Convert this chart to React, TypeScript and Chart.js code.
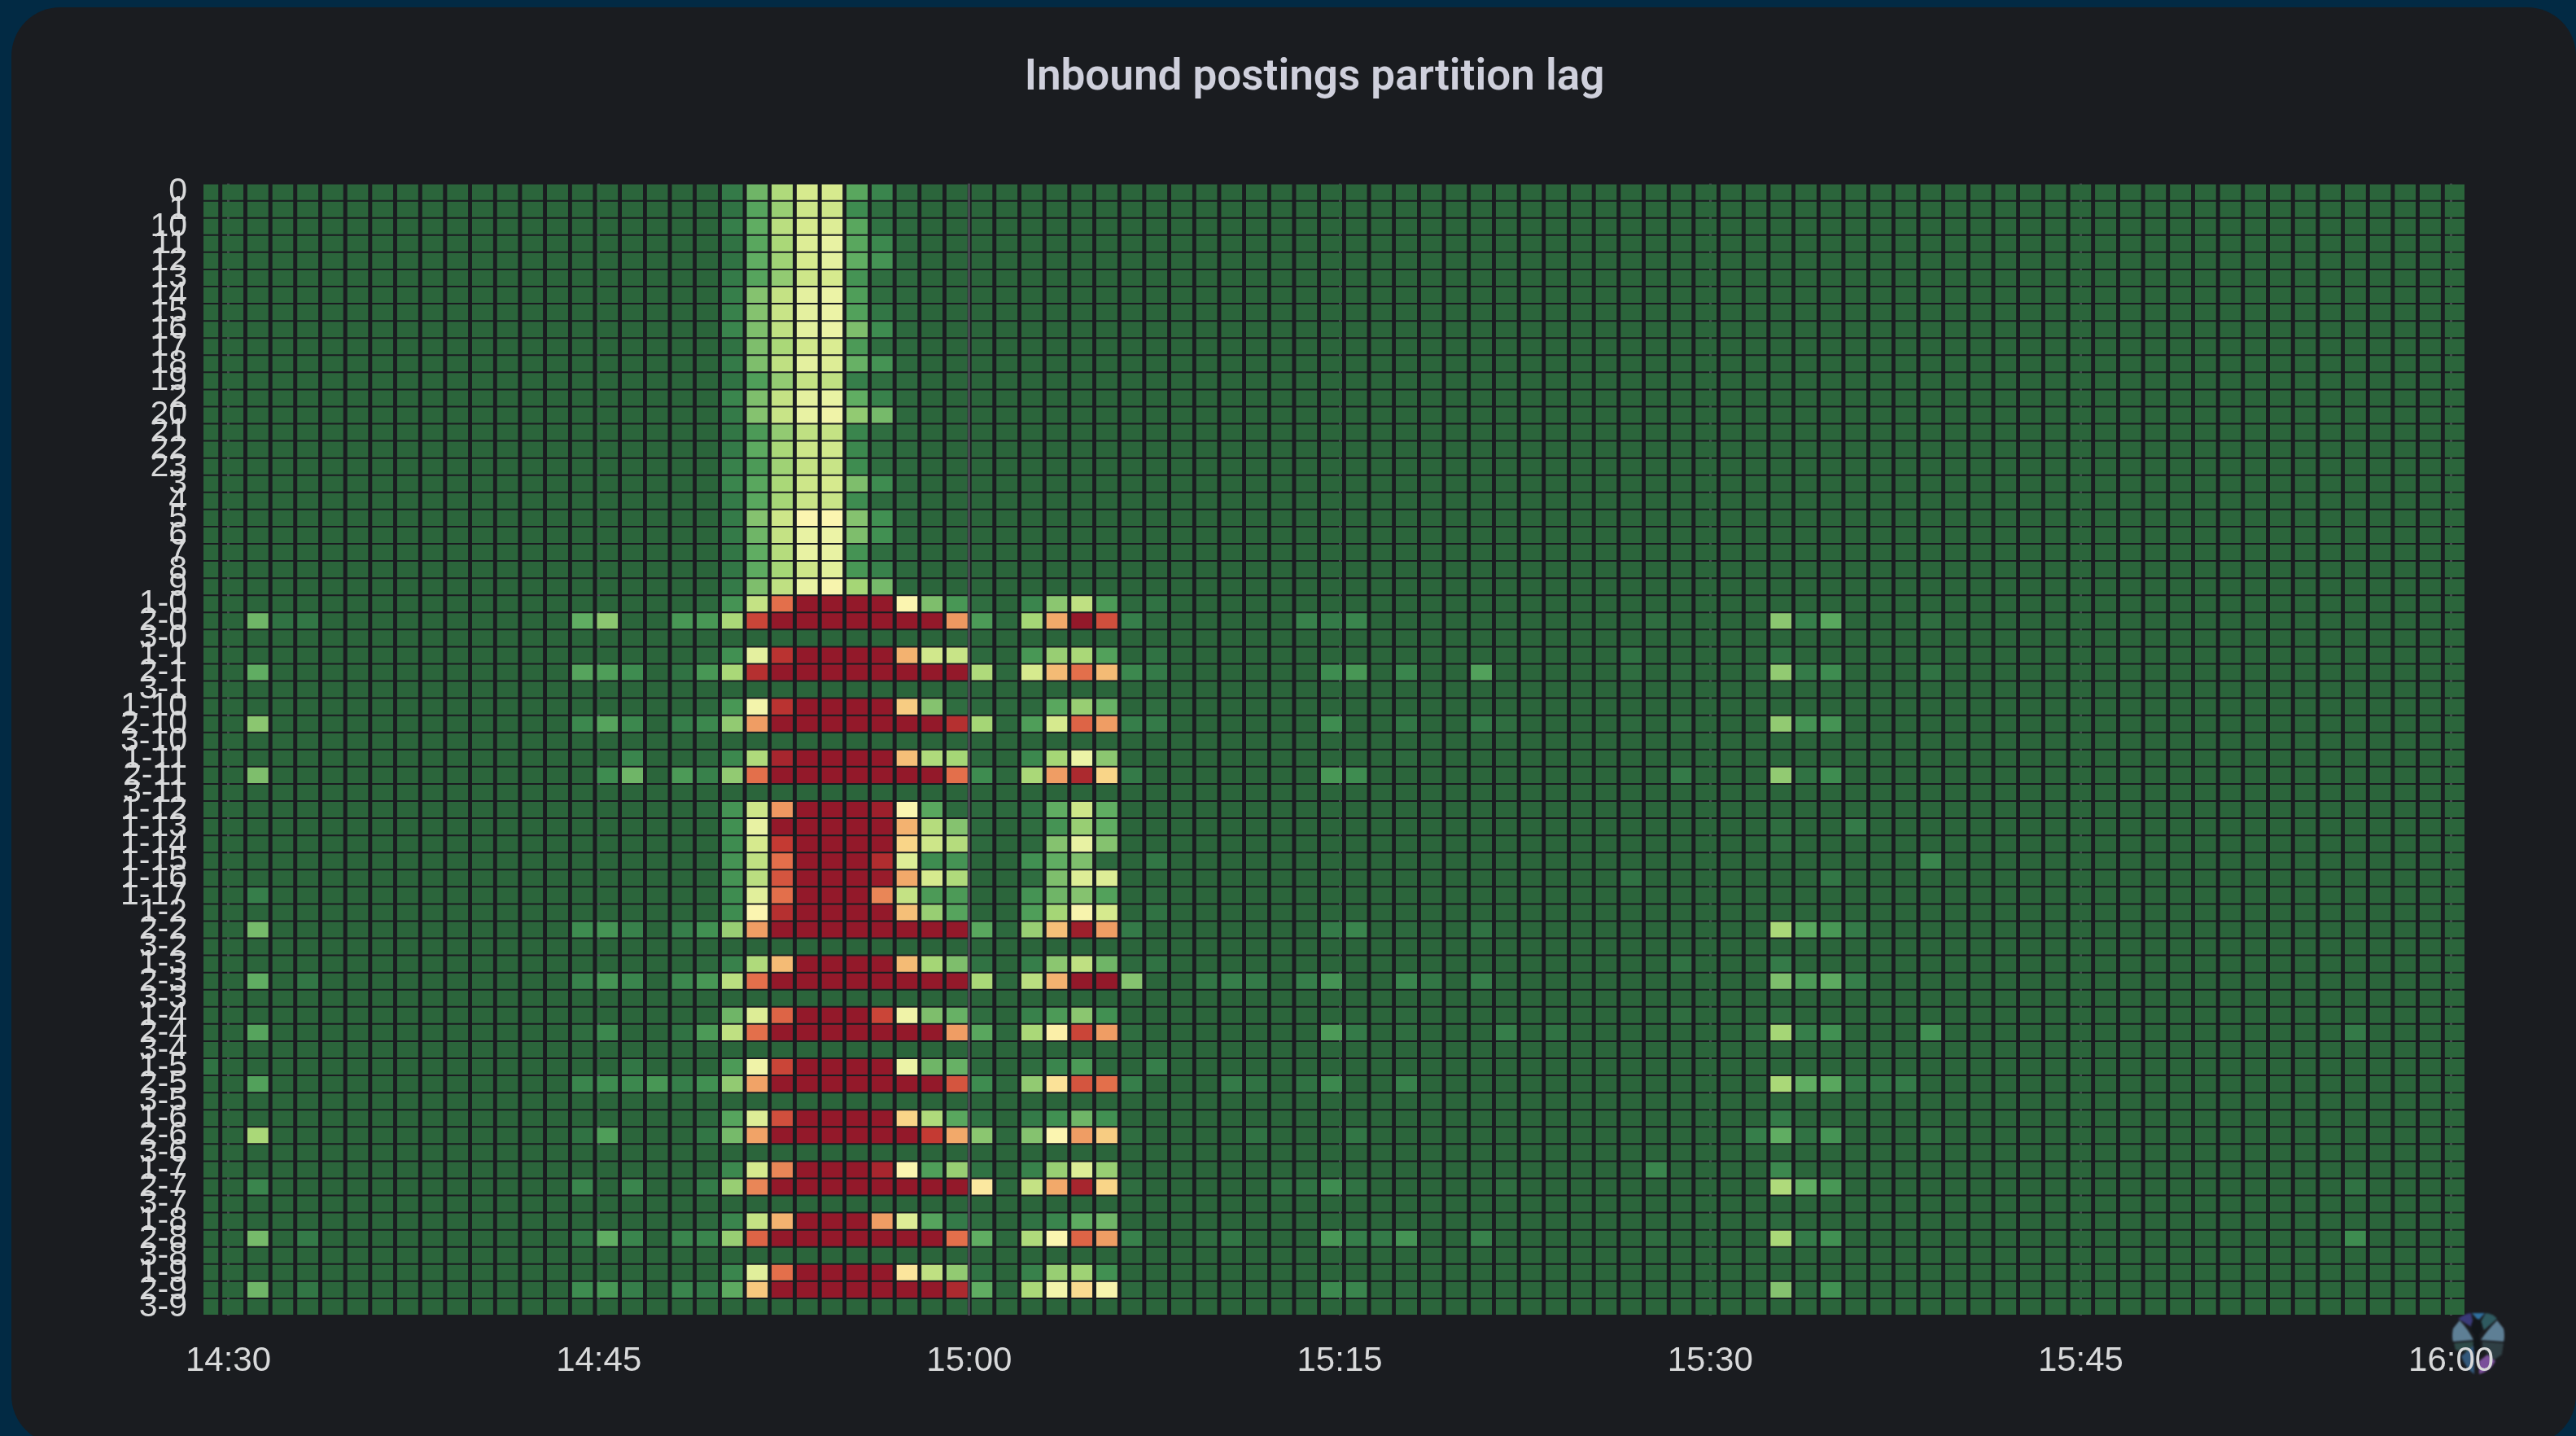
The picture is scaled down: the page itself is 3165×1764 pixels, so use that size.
import React, { useEffect, useRef } from "react";
import { Chart, registerables } from "chart.js";

Chart.register(...registerables);

// ---------- axis content ----------
const plainPartitions = ["0","1","10","11","12","13","14","15","16","17","18","19","2","20","21","22","23","3","4","5","6","7","8","9"];
const topicPartitions = [
  "1-0","2-0","3-0","1-1","2-1","3-1","1-10","2-10","3-10","1-11","2-11","3-11",
  "1-12","1-13","1-14","1-15","1-16","1-17",
  "1-2","2-2","3-2","1-3","2-3","3-3","1-4","2-4","3-4","1-5","2-5","3-5",
  "1-6","2-6","3-6","1-7","2-7","3-7","1-8","2-8","3-8","1-9","2-9","3-9",
];
const partitionLabels = [...plainPartitions, ...topicPartitions];
const timeTickLabels: Record<number, string> = { 0: "14:30", 15: "14:45", 30: "15:00", 45: "15:15", 60: "15:30", 75: "15:45", 90: "16:00" };
const titleText = "Inbound postings partition lag";

// bucket centres in minutes after 14:30
const bucketCount = 91;
const firstBucketMinute = -0.826;
const bucketStepMinutes = 1.011;

// ---------- lag values (0 = none, 100 = worst) ----------
// plain partitions 0..23 in buckets 21..28
const plainSpikeStart = 21;
const plainSpike: number[][] = [
  [5,22,32,40,40,18,8,1],[3,17,28,38,38,10,2,1],[6,20,34,40,42,18,3,1],[3,18,31,42,45,18,9,1],
  [3,20,29,40,44,20,12,1],[5,17,27,38,40,12,2,1],[6,25,36,44,46,15,2,1],[7,25,37,44,46,16,4,1],
  [8,24,35,44,46,24,10,1],[3,24,31,39,41,14,2,1],[5,24,35,44,42,21,12,1],[3,15,27,36,35,6,2,1],
  [8,24,36,44,45,20,7,1],[5,25,37,45,47,27,23,1],[4,14,27,35,36,8,2,1],[5,19,31,38,39,9,2,1],
  [7,14,29,36,37,10,2,1],[8,18,31,38,40,24,10,1],[5,18,30,37,37,10,1,1],[5,25,38,50,50,25,11,1],
  [5,22,36,45,46,24,11,1],[4,20,33,45,45,12,2,1],[4,19,30,38,43,13,7,1],[5,24,35,45,49,30,23,1],
];

// topic partitions in buckets 20..37
const burstStart = 20;
const burstLabels = ["1-0","2-0","1-1","2-1","1-10","2-10","1-11","2-11","1-12","1-13","1-14","1-15","1-16","1-17","1-2","2-2","1-3","2-3","1-4","2-4","1-5","2-5","1-6","2-6","1-7","2-7","1-8","2-8","1-9","2-9"];
const burstValues: number[][] = [
  [1,12,36,80,100,100,100,100,50,24,13,2,0,8,26,35,14,1],
  [13,31,88,100,100,100,100,100,100,100,73,14,1,30,70,100,86,6],
  [1,11,44,92,100,100,100,100,68,39,37,1,0,13,28,31,16,0],
  [13,31,93,100,100,100,100,100,100,100,100,32,1,40,66,80,66,9],
  [1,13,48,92,100,100,100,100,62,25,2,1,1,1,18,28,21,0],
  [9,27,72,100,100,100,100,100,100,100,93,30,1,15,40,82,72,6],
  [1,9,32,96,100,100,100,100,65,32,30,1,0,9,30,46,26,0],
  [7,27,80,100,100,100,100,100,100,100,80,10,1,31,72,95,60,5],
  [1,12,38,73,100,100,100,98,50,18,1,1,1,3,20,38,20,0],
  [0,11,45,100,100,100,100,100,68,33,25,1,0,2,12,28,20,0],
  [0,10,40,90,100,100,100,100,60,38,33,1,0,1,25,45,25,0],
  [0,12,35,80,100,100,100,94,42,10,12,0,0,11,20,24,1,0],
  [0,12,34,85,100,100,100,99,70,40,32,0,0,2,24,42,42,0],
  [0,10,43,80,100,100,100,76,36,14,14,0,0,12,22,25,16,0],
  [0,10,50,93,100,100,100,100,65,28,17,0,0,15,30,49,40,0],
  [11,28,72,100,100,100,100,100,100,100,100,18,1,28,65,98,72,5],
  [1,7,32,66,100,100,100,100,66,30,24,3,0,6,26,35,22,1],
  [13,34,80,100,100,100,100,100,100,100,100,31,1,34,68,100,100,25],
  [0,22,42,82,100,100,100,88,47,24,21,2,0,7,14,26,11,0],
  [14,35,80,100,100,100,100,100,100,100,72,18,1,31,52,88,72,2],
  [0,14,47,88,100,100,100,100,46,22,21,1,0,2,8,14,1,0],
  [11,27,71,100,100,100,100,100,100,100,85,10,1,27,56,85,80,6],
  [1,17,42,86,100,100,100,100,60,32,18,3,0,5,11,22,11,0],
  [4,23,71,100,100,100,100,100,100,90,70,26,1,25,50,72,62,2],
  [0,9,40,76,100,100,100,96,50,15,28,3,0,7,28,42,28,0],
  [5,28,76,100,100,100,100,100,100,100,100,54,1,36,70,96,60,2],
  [1,8,36,68,100,100,100,72,42,17,5,2,0,3,8,19,22,0],
  [8,28,82,100,100,100,100,100,100,100,80,20,1,32,50,82,72,7],
  [0,8,43,80,100,100,100,100,55,35,27,3,0,7,28,29,11,0],
  [5,19,63,100,100,100,100,100,100,100,95,20,1,31,48,58,49,1],
];

// isolated warm cells: [partition, bucket, lag]
const earlyCells: [string, number, number][] = [
  ["2-0",2,22],["2-0",3,3],["2-0",4,4],["2-1",2,20],["2-10",2,26],["2-11",2,24],["1-17",2,6],
  ["2-2",2,23],["2-3",2,20],["2-3",4,4],["2-4",2,17],["2-5",2,16],["1-5",0,3],["2-6",2,31],
  ["2-7",2,8],["2-8",2,23],["2-8",4,5],["2-9",2,22],["2-9",4,4],
];
const preBurstCells: [string, number, number][] = [
  ["2-0",15,20],["2-0",16,26],["2-0",19,13],["2-1",15,17],["2-1",16,15],["2-1",17,10],["2-1",19,3],
  ["2-10",15,9],["2-10",16,17],["2-10",17,9],["2-10",19,6],["1-11",17,8],["2-11",16,10],["2-11",17,22],["2-11",19,14],
  ["2-2",15,10],["2-2",16,12],["2-2",17,7],["2-2",19,6],["2-3",15,7],["2-3",16,12],["2-3",17,8],["2-3",19,9],
  ["2-4",15,2],["2-4",16,9],["2-4",19,3],["1-5",17,4],["2-5",15,8],["2-5",16,10],["2-5",17,9],["2-5",18,13],["2-5",19,6],
  ["2-6",15,3],["2-6",16,15],["2-7",15,8],["2-7",17,8],["2-8",15,4],["2-8",16,20],["2-8",17,8],["2-8",19,8],
  ["2-9",15,10],["2-9",16,13],["2-9",17,6],["2-9",19,8],
];
const lateCells: [string, number, number][] = [
  ["1-0",38,3],["2-0",38,1],["2-0",44,7],["2-0",45,5],["2-0",46,8],["2-0",58,2],["2-0",63,26],["2-0",64,6],["2-0",65,18],["2-0",69,2],
  ["1-1",38,3],["1-1",57,3],["1-1",63,3],
  ["2-1",38,5],["2-1",45,10],["2-1",46,13],["2-1",48,8],["2-1",51,16],["2-1",57,2],["2-1",59,1],["2-1",62,1],["2-1",63,27],["2-1",64,5],["2-1",65,10],["2-1",69,3],
  ["1-10",38,2],
  ["2-10",38,5],["2-10",45,10],["2-10",48,4],["2-10",51,5],["2-10",52,2],["2-10",57,1],["2-10",59,2],["2-10",63,27],["2-10",64,12],["2-10",65,12],
  ["1-11",48,1],["2-11",45,13],["2-11",46,10],["2-11",59,5],["2-11",63,27],["2-11",64,3],["2-11",65,10],
  ["1-13",63,2],["1-13",66,5],["1-14",63,2],["1-15",38,4],["1-15",69,8],["1-16",57,3],["1-16",65,4],["1-17",38,1],["1-2",38,3],
  ["2-2",45,5],["2-2",46,8],["2-2",48,1],["2-2",51,3],["2-2",63,31],["2-2",64,18],["2-2",65,13],["2-2",66,5],
  ["1-3",38,3],["1-3",59,3],["1-3",63,5],
  ["2-3",40,4],["2-3",41,6],["2-3",42,5],["2-3",44,6],["2-3",45,12],["2-3",48,8],["2-3",49,4],["2-3",51,6],["2-3",63,24],["2-3",64,14],["2-3",65,19],["2-3",66,6],
  ["1-4",48,1],["1-4",59,2],["1-4",63,2],
  ["2-4",45,14],["2-4",46,5],["2-4",48,2],["2-4",52,6],["2-4",54,3],["2-4",62,2],["2-4",63,30],["2-4",64,6],["2-4",65,11],["2-4",69,11],["2-4",86,5],
  ["1-5",38,6],
  ["2-5",41,5],["2-5",42,3],["2-5",44,3],["2-5",45,9],["2-5",48,7],["2-5",63,31],["2-5",64,20],["2-5",65,18],["2-5",66,4],["2-5",67,4],["2-5",68,5],
  ["1-6",63,5],
  ["2-6",42,3],["2-6",46,4],["2-6",62,6],["2-6",63,20],["2-6",64,3],["2-6",65,12],["2-6",69,2],
  ["1-7",58,8],["1-7",63,9],
  ["2-7",43,3],["2-7",44,3],["2-7",45,10],["2-7",46,3],["2-7",52,2],["2-7",63,32],["2-7",64,20],["2-7",65,13],["2-7",86,3],
  ["1-8",63,1],
  ["2-8",40,2],["2-8",41,4],["2-8",45,13],["2-8",46,6],["2-8",47,5],["2-8",48,12],["2-8",51,7],["2-8",58,2],["2-8",63,31],["2-8",64,5],["2-8",65,11],["2-8",86,10],
  ["2-9",45,9],["2-9",46,8],["2-9",48,1],["2-9",63,25],["2-9",64,1],["2-9",65,11],
];

// colour legend of the heat scale: [lag, colour]
const lagStops: [number, string][] = [
  [0,"#2b653b"],[5,"#347a48"],[10,"#3e8c50"],[15,"#4f9e59"],[20,"#60ad62"],[25,"#85c26f"],[30,"#a5d676"],
  [35,"#bfe082"],[40,"#d6ea8e"],[45,"#e8f2a3"],[50,"#fbf5b0"],[55,"#fbe59c"],[60,"#f9d588"],[65,"#f5bf78"],
  [70,"#f2a96a"],[80,"#e36f4b"],[90,"#c43a33"],[100,"#93192a"],
];

const PANEL = "#1a1c20";
const PAGE = "#022a44";
const TEXT = "#d8d9da";

function hexToRgb(h: string) {
  return [parseInt(h.slice(1, 3), 16), parseInt(h.slice(3, 5), 16), parseInt(h.slice(5, 7), 16)];
}
function lagColor(v: number) {
  for (let i = 1; i < lagStops.length; i++) {
    const [a, ca] = lagStops[i - 1];
    const [b, cb] = lagStops[i];
    if (v <= b) {
      const t = (v - a) / (b - a);
      const A = hexToRgb(ca);
      const B = hexToRgb(cb);
      return `rgb(${A.map((c, k) => Math.round(c + (B[k] - c) * t)).join(",")})`;
    }
  }
  return lagStops[lagStops.length - 1][1];
}

function buildLagTable(): number[][] {
  const table = partitionLabels.map(() => new Array(bucketCount).fill(0) as number[]);
  plainSpike.forEach((vals, r) => vals.forEach((v, k) => { table[r][plainSpikeStart + k] = v; }));
  burstLabels.forEach((label, n) => {
    const r = partitionLabels.indexOf(label);
    burstValues[n].forEach((v, k) => { table[r][burstStart + k] = v; });
  });
  [...earlyCells, ...preBurstCells, ...lateCells].forEach(([label, c, v]) => {
    table[partitionLabels.indexOf(label)][c] = v;
  });
  return table;
}

// the panel title sits left of the page centre
const titleShift = {
  id: "titleShift",
  afterLayout(chart: any) {
    if (chart.titleBlock) chart.titleBlock.left = 202;
  },
};

export default function App() {
  const ref = useRef<HTMLCanvasElement | null>(null);
  useEffect(() => {
    const table = buildLagTable();
    const minutes = Array.from({ length: bucketCount }, (_, i) => firstBucketMinute + i * bucketStepMinutes);
    const datasets = partitionLabels.map((label, r) => ({
      label,
      data: minutes.map((m) => ({ x: m, y: 1 })),
      backgroundColor: table[r].map(lagColor),
      borderColor: "rgba(0,0,0,0)",
      borderWidth: { top: 1, bottom: 1, left: 0, right: 0 },
      borderSkipped: false,
      categoryPercentage: 1,
      barPercentage: 0.85,
      yAxisID: "y",
      xAxisID: "x",
    }));
    const chart = new Chart(ref.current as HTMLCanvasElement, {
      type: "bar",
      data: { datasets } as any,
      plugins: [titleShift],
      options: {
        animation: false,
        responsive: false,
        events: [],
        layout: { padding: { left: 0, right: 137, top: 0, bottom: 0 } },
        plugins: {
          legend: { display: false },
          tooltip: { enabled: false },
          title: {
            display: true,
            text: titleText,
            color: "#cfd0dc",
            font: { family: "Roboto", size: 53, weight: "600", lineHeight: 1.2 },
            padding: { top: 65, bottom: 97 },
          },
        },
        scales: {
          x: {
            type: "linear",
            stacked: true,
            position: "bottom",
            offset: false,
            min: -1.005,
            max: 90.54,
            border: { display: false },
            grid: { offset: false, color: "rgba(140,140,150,0.4)", lineWidth: 3, drawTicks: false },
            afterFit: (s: any) => { s.height = 148; s.paddingLeft = 0; s.paddingRight = 0; },
            ticks: {
              stepSize: 15,
              includeBounds: false,
              autoSkip: false,
              maxRotation: 0,
              color: TEXT,
              padding: 31,
              font: { family: "Liberation Sans", size: 42 },
              callback: (v: any) => timeTickLabels[v] ?? "",
            },
          },
          y: {
            type: "linear",
            stacked: true,
            reverse: true,
            min: 0,
            max: partitionLabels.length,
            display: false,
          },
          partitions: {
            type: "category",
            position: "left",
            labels: partitionLabels,
            offset: true,
            border: { display: false },
            grid: { display: false, drawTicks: false },
            afterFit: (s: any) => { s.width = 250; s.paddingTop = 0; s.paddingBottom = 0; },
            ticks: {
              autoSkip: false,
              maxRotation: 0,
              minRotation: 0,
              color: TEXT,
              padding: 20,
              font: { family: "Liberation Sans", size: 41 },
            },
          },
        },
      } as any,
    });
    return () => chart.destroy();
  }, []);

  return (
    <div style={{ position: "fixed", left: 0, top: 0, width: 3165, height: 1764, overflow: "hidden", background: PAGE }}>
      <div style={{ position: "absolute", left: 14, top: 9, width: 3151, height: 1765, background: PANEL, borderRadius: 60 }} />
      <svg style={{ position: "absolute", left: 3010, top: 1610, filter: "blur(1px)" }} width={72} height={84} viewBox="0 0 72 84">
        <path d="M4,22 Q2,32 4,38 L29,36 Q22,22 12,12 Z" fill="#5e7f95" />
        <path d="M66,22 Q68,32 66,38 L38,36 Q46,24 58,12 Z" fill="#5e7f95" />
        <path d="M10,10 Q20,3 26,3 L30,22 Z" fill="#3a3a78" />
        <path d="M27,3 L43,3 L35,12 Z" fill="#2f6f9f" />
        <path d="M44,3 Q54,4 58,10 L42,24 L38,14 Z" fill="#2f5a60" />
        <path d="M5,40 L29,38 L28,50 Q12,50 7,48 Z" fill="#2e4a48" />
        <path d="M40,38 L66,40 L64,54 L52,62 Q46,50 40,46 Z" fill="#2f3f44" />
        <path d="M14,56 L30,42 L30,78 Q20,72 14,56 Z" fill="#33587a" />
        <path d="M36,78 Q50,74 56,62 L46,54 L36,62 Z" fill="#7a4f9a" />
        <ellipse cx={33} cy={20} rx={7} ry={10} fill="#12161a" />
        <ellipse cx={33} cy={42} rx={4} ry={16} fill="#12161a" />
      </svg>
      <canvas ref={ref} width={3165} height={1764} style={{ position: "absolute", left: 0, top: 0, width: 3165, height: 1764, filter: "blur(0.7px)" }} />
    </div>
  );
}
